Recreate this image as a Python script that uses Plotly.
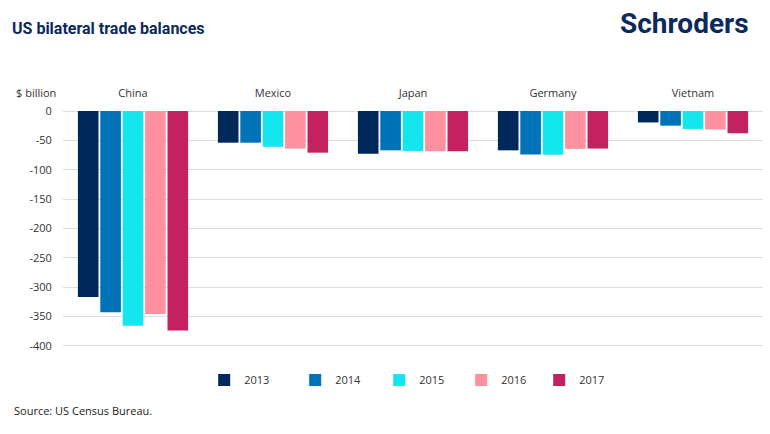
import plotly.graph_objects as go

countries = ["China", "Mexico", "Japan", "Germany", "Vietnam"]
years = ["2013", "2014", "2015", "2016", "2017"]
values = {
    "2013": [-317, -54, -73, -67, -19.5],
    "2014": [-343, -54, -67, -74, -25],
    "2015": [-366, -61, -68, -74.5, -30.5],
    "2016": [-346, -64, -68.5, -64.5, -31.5],
    "2017": [-374, -71, -68.5, -64, -38],
}
colors = ["#00295B", "#0072B8", "#14E6F0", "#FF909F", "#C42161"]
legend_widths = [46, 39, 37, 33, 33]
y_ticks = [0, -50, -100, -150, -200, -250, -300, -350, -400]

fig = go.Figure()
for yr, col, lw in zip(years, colors, legend_widths):
    fig.add_trace(go.Bar(
        name=yr, x=countries, y=values[yr],
        marker=dict(color=col, line=dict(width=0)),
        legendwidth=lw,
    ))

txt = "#333333"
fig.update_layout(
    width=770, height=434,
    margin=dict(l=63, r=7, t=111, b=87),
    paper_bgcolor="white", plot_bgcolor="white",
    barmode="group", bargap=0.2, bargroupgap=0.08,
    font=dict(family="Open Sans", size=11, color=txt),
    showlegend=True,
    legend=dict(
        orientation="h", x=0.2017, xanchor="left", y=-0.14, yanchor="middle",
        font=dict(size=11, color=txt),
        traceorder="normal",
    ),
    title=dict(
        text="<b>US bilateral trade balances</b>",
        xref="container", yref="container", x=12/770, xanchor="left",
        y=1-28/434, yanchor="middle",
        font=dict(family="Roboto", size=16, color="#0B2A5B"),
    ),
    xaxis=dict(
        side="top", showgrid=False, showline=False, ticks="",
        ticklabelstandoff=11,
        tickfont=dict(size=11, color=txt), fixedrange=True,
    ),
    yaxis=dict(
        range=[-402, 0], tickvals=y_ticks, ticktext=[str(v) for v in y_ticks],
        showgrid=True, gridcolor="#DDDDDD", gridwidth=1,
        zeroline=True, zerolinecolor="#DDDDDD", zerolinewidth=1,
        ticks="outside", ticklen=8, tickcolor="rgba(0,0,0,0)",
        tickfont=dict(size=11, color=txt),
    ),
    annotations=[
        dict(text="$ billion", xref="paper", yref="paper", x=(14-63)/700, y=(347-92)/236,
             xanchor="left", yanchor="middle", showarrow=False,
             font=dict(size=11, color=txt)),
        dict(text="<b>Schroders</b>", xref="paper", yref="paper", x=(751-63)/700, y=(347-23)/236,
             xanchor="right", yanchor="middle", showarrow=False,
             font=dict(family="Roboto", size=28, color="#0B2A5B")),
        dict(text="Source: US Census Bureau.", xref="paper", yref="paper", x=(12-63)/700, y=(347-410)/236,
             xanchor="left", yanchor="middle", showarrow=False,
             font=dict(size=11, color="#222222")),
    ],
)

fig.write_html("out.html", config={"displayModeBar": False},
               post_script="document.body.style.margin='0';")
